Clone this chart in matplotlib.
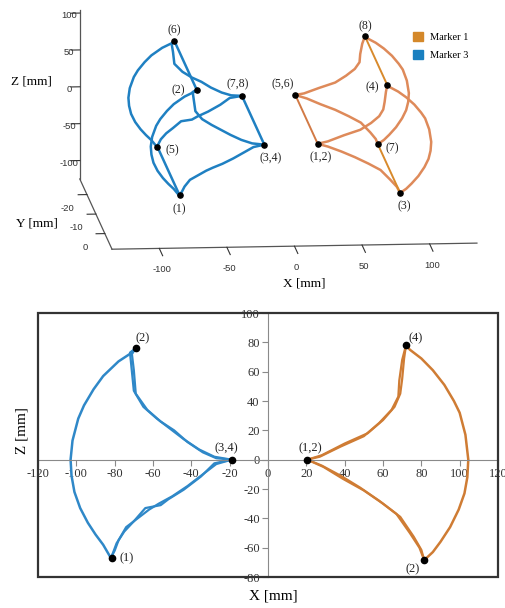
import matplotlib
matplotlib.use("Agg")
import matplotlib.pyplot as plt
from matplotlib.patches import Rectangle, Patch
import numpy as np

plt.rcParams['font.family'] = ['Liberation Serif', 'DejaVu Serif']
plt.rcParams['axes.unicode_minus'] = False

# ---- traced X-Z paths [mm] ----
blue_arc_x = [-69, -71, -78, -86, -91, -96, -99, -102, -103, -102.5, -101, -98, -94, -90, -86, -82]
blue_arc_z = [76, 73, 67, 57, 48, 37, 28, 13, 0, -11, -22, -33, -43, -51, -58, -67]
blue_up_x = [[-69, -71, -70, -69, -63, -56, -49, -42, -34, -27, -19],
             [-69, -72, -71, -70, -65, -58, -51, -44, -36, -28, -19]]
blue_up_z = [[76, 72, 61, 45, 34, 26, 20, 12, 5, 1, 0],
             [76, 73, 60, 47, 36, 28, 21, 14, 7, 2, 0]]
blue_lo_x = [[-19, -28, -35, -44, -52, -56, -64, -70, -75, -79, -81, -82],
             [-19, -27, -34, -42, -50, -57, -62, -68, -74, -78, -80, -82]]
blue_lo_z = [[0, -2.5, -11.5, -20.5, -27, -31, -33, -42, -49, -57, -64, -67],
             [0, -3, -10, -18, -25, -30, -34, -40, -46, -55, -62, -67]]

orange_arc_x = [72, 74, 80, 86, 92, 97, 100, 103, 104.5, 104, 102.5, 99.5, 95, 90, 86, 81.5]
orange_arc_z = [78, 75, 69, 61, 51, 40, 32, 17, 0, -12, -23, -34, -46, -56, -63, -68.5]
orange_up_x = [[20.5, 27, 38, 50, 58, 64.5, 68, 68.5, 70, 72],
               [20.5, 28, 40, 52, 60, 66, 69, 70, 71, 72]]
orange_up_z = [[0, 2, 9, 16, 25, 34, 43, 54, 68, 78],
               [0, 3, 11, 18, 27, 36, 45, 55, 69, 78]]
orange_lo_x = [[20.5, 29, 39, 50, 60, 69, 76, 80, 81.5],
               [20.5, 28, 38, 48, 58, 67, 74, 79, 81.5]]
orange_lo_z = [[0, -5, -13, -21, -30, -39, -52.5, -61.5, -68.5],
               [0, -4, -11, -19, -28, -37, -50, -60, -68.5]]

# key points in the X-Z view: top, bottom, tip
blue_pts_x = [-69, -81.6, -19]
blue_pts_z = [76, -67, 0]
orange_pts_x = [72, 81.5, 20.5]
orange_pts_z = [78, -68.5, 0]

# depth (Y) of the two planes seen in the 3D view: back, front
plane_y = [-22, 3]

# labels in the 3D view (back plane, front plane) for top, bottom, tip
blue_labels_3d = [["(6)", "(5)", "(7,8)"], ["(2)", "(1)", "(3,4)"]]
orange_labels_3d = [["(8)", "(7)", "(5,6)"], ["(4)", "(3)", "(1,2)"]]
blue_labels_2d = ["(2)", "(1)", "(3,4)"]
orange_labels_2d = ["(4)", "(2)", "(1,2)"]

x_ticks_3d = [-100, -50, 0, 50, 100]
y_ticks_3d = [-20, -10, 0]
z_ticks_3d = [-100, -50, 0, 50, 100]

BLUE = "#1f80c2"
ORANGE = "#de8a5a"
ORANGE_LINK = "#d88a2c"
BLUE2 = "#2f88c8"
ORANGE2 = "#cf7c34"

fig = plt.figure(figsize=(5.06, 6.08), dpi=100)

# ================= top: 3D view =================
ax3 = fig.add_axes([0.042, 0.535, 1.0, 0.5], projection='3d')
ax3.set_proj_type('ortho')
ax3.set_box_aspect((1.15, 1.16, 0.54), zoom=1.75)
ax3.view_init(elev=11, azim=-95)

lw3 = dict(lw=1.8, clip_on=False)
for k, yv in enumerate(plane_y):
    ax3.plot(blue_arc_x, [yv] * len(blue_arc_x), blue_arc_z, color=BLUE, **lw3)
    ax3.plot(blue_up_x[k], [yv] * len(blue_up_x[k]), blue_up_z[k], color=BLUE, **lw3)
    ax3.plot(blue_lo_x[k], [yv] * len(blue_lo_x[k]), blue_lo_z[k], color=BLUE, **lw3)
    ax3.plot(orange_arc_x, [yv] * len(orange_arc_x), orange_arc_z, color=ORANGE, **lw3)
    ax3.plot(orange_up_x[k], [yv] * len(orange_up_x[k]), orange_up_z[k], color=ORANGE, **lw3)
    ax3.plot(orange_lo_x[k], [yv] * len(orange_lo_x[k]), orange_lo_z[k], color=ORANGE, **lw3)

# links between the two planes
for i in range(3):
    ax3.plot([blue_pts_x[i]] * 2, plane_y, [blue_pts_z[i]] * 2, color=BLUE, **lw3)
    link_col = "#d27a45" if i == 2 else ORANGE_LINK
    ax3.plot([orange_pts_x[i]] * 2, plane_y, [orange_pts_z[i]] * 2, color=link_col,
             lw=1.4, clip_on=False)

for k, yv in enumerate(plane_y):
    ax3.scatter(blue_pts_x, [yv] * 3, blue_pts_z, color='black', s=14,
                depthshade=False, zorder=10, clip_on=False)
    ax3.scatter(orange_pts_x, [yv] * 3, orange_pts_z, color='black', s=14,
                depthshade=False, zorder=10, clip_on=False)

lab_kw = dict(fontsize=8.5, color='#222', clip_on=False)
for k, yv in enumerate(plane_y):
    bl = blue_labels_3d[k]
    ol = orange_labels_3d[k]
    if k == 0:
        ax3.text(blue_pts_x[0], yv, blue_pts_z[0] + 6, bl[0], ha='center', va='bottom', **lab_kw)
        ax3.text(blue_pts_x[1] + 6, yv, blue_pts_z[1] - 5, bl[1], ha='left', va='center', **lab_kw)
        ax3.text(blue_pts_x[2] - 3, yv, blue_pts_z[2] + 7, bl[2], ha='center', va='bottom', **lab_kw)
        ax3.text(orange_pts_x[0], yv, orange_pts_z[0] + 6, ol[0], ha='center', va='bottom', **lab_kw)
        ax3.text(orange_pts_x[1] + 6, yv, orange_pts_z[1] - 6, ol[1], ha='left', va='center', **lab_kw)
        ax3.text(orange_pts_x[2] - 9, yv, orange_pts_z[2] + 6, ol[2], ha='center', va='bottom', **lab_kw)
    else:
        ax3.text(blue_pts_x[0] - 9, yv, blue_pts_z[0], bl[0], ha='right', va='center', **lab_kw)
        ax3.text(blue_pts_x[1], yv, blue_pts_z[1] - 10, bl[1], ha='center', va='top', **lab_kw)
        ax3.text(blue_pts_x[2] + 5, yv, blue_pts_z[2] - 10, bl[2], ha='center', va='top', **lab_kw)
        ax3.text(orange_pts_x[0] - 6, yv, orange_pts_z[0] - 3, ol[0], ha='right', va='center', **lab_kw)
        ax3.text(orange_pts_x[1] + 3, yv, orange_pts_z[1] - 10, ol[1], ha='center', va='top', **lab_kw)
        ax3.text(orange_pts_x[2] + 2, yv, orange_pts_z[2] - 10, ol[2], ha='center', va='top', **lab_kw)

ax3.set_xlim(-135, 135)
ax3.set_ylim(8, -28)
ax3.set_zlim(-125, 104)
ax3.set_xticks(x_ticks_3d)
ax3.set_yticks(y_ticks_3d)
ax3.set_zticks(z_ticks_3d)
ax3.grid(False)
for axis in (ax3.xaxis, ax3.yaxis, ax3.zaxis):
    axis.set_pane_color((1, 1, 1, 0))
    axis.pane.set_edgecolor((1, 1, 1, 0))
    axis.line.set_color('#555555')
    axis.line.set_linewidth(0.9)
    axis._axinfo['tick']['inward_factor'] = 0.3
    axis._axinfo['tick']['outward_factor'] = 0.0
    for t in axis.get_ticklabels():
        t.set_fontfamily('Liberation Sans')
# x ticks run along the short Y depth, so they need a larger factor
ax3.xaxis._axinfo['tick']['inward_factor'] = 1.3
ax3.xaxis._axinfo['tick']['outward_factor'] = 0.0
ax3.tick_params(labelsize=6.8, colors='#333333', width=0.9)
ax3.xaxis.set_tick_params(pad=0)
ax3.yaxis.set_tick_params(pad=-2)
ax3.zaxis.set_tick_params(pad=-5)

fig.text(31 / 506, 1 - 82 / 608, "Z [mm]", ha='center', va='center', fontsize=9.5)
fig.text(37 / 506, 1 - 224 / 608, "Y [mm]", ha='center', va='center', fontsize=9.5)
fig.text(304 / 506, 1 - 283 / 608, "X [mm]", ha='center', va='center', fontsize=9.5)

handles = [Patch(color="#d4882a", label="Marker 1"), Patch(color="#1a80c0", label="Marker 3")]
fig.legend(handles=handles, loc='upper left', bbox_to_anchor=(409 / 506, 1 - 28 / 608),
           frameon=False, fontsize=7.5, handlelength=0.9, handleheight=0.9,
           handletextpad=0.7, labelspacing=0.75, borderaxespad=0)

# ================= bottom: X-Z view =================
ax2 = fig.add_axes([38 / 506, 31 / 608, 460 / 506, 264 / 608])
for k in range(2):
    ax2.plot(blue_up_x[k], blue_up_z[k], color=BLUE2, lw=1.6)
    ax2.plot(blue_lo_x[k], blue_lo_z[k], color=BLUE2, lw=1.6)
    ax2.plot(orange_up_x[k], orange_up_z[k], color=ORANGE2, lw=1.6)
    ax2.plot(orange_lo_x[k], orange_lo_z[k], color=ORANGE2, lw=1.6)
ax2.plot(blue_arc_x, blue_arc_z, color=BLUE2, lw=1.8)
ax2.plot(orange_arc_x, orange_arc_z, color=ORANGE2, lw=1.8)
ax2.plot(blue_pts_x, blue_pts_z, 'o', color='black', ms=4.5, zorder=6)
ax2.plot(orange_pts_x, orange_pts_z, 'o', color='black', ms=4.5, zorder=6)

lk = dict(fontsize=9, color='#222')
ax2.annotate(blue_labels_2d[0], (blue_pts_x[0], blue_pts_z[0]), xytext=(0, 3),
             textcoords='offset points', ha='left', va='bottom', **lk)
ax2.annotate(blue_labels_2d[1], (blue_pts_x[1], blue_pts_z[1]), xytext=(6, 0),
             textcoords='offset points', ha='left', va='center', **lk)
ax2.annotate(blue_labels_2d[2], (blue_pts_x[2], blue_pts_z[2]), xytext=(-4, 4),
             textcoords='offset points', ha='center', va='bottom', **lk)
ax2.annotate(orange_labels_2d[0], (orange_pts_x[0], orange_pts_z[0]), xytext=(2, 1),
             textcoords='offset points', ha='left', va='bottom', **lk)
ax2.annotate(orange_labels_2d[1], (orange_pts_x[1], orange_pts_z[1]), xytext=(-3, -2),
             textcoords='offset points', ha='right', va='top', **lk)
ax2.annotate(orange_labels_2d[2], (orange_pts_x[2], orange_pts_z[2]), xytext=(2, 4),
             textcoords='offset points', ha='center', va='bottom', **lk)

ax2.set_xlim(-120, 120)
ax2.set_ylim(-80, 100)
ax2.set_xticks(np.arange(-120, 121, 20))
ax2.set_yticks(np.arange(-80, 101, 20))
ax2.spines['left'].set_position(('data', 0))
ax2.spines['bottom'].set_position(('data', 0))
ax2.spines['top'].set_visible(False)
ax2.spines['right'].set_visible(False)
for s in ('left', 'bottom'):
    ax2.spines[s].set_color('#8a8a8a')
    ax2.spines[s].set_linewidth(0.8)
ax2.tick_params(direction='out', length=4, width=0.8, color='#8a8a8a',
                labelsize=9, labelcolor='#333333', pad=2)
ax2.add_patch(Rectangle((0, 0), 1, 1, transform=ax2.transAxes, fill=False,
                        lw=1.6, ec='#333333', clip_on=False, zorder=5))

fig.text(273 / 506, 1 - 596 / 608, "X [mm]", ha='center', va='center', fontsize=11)
fig.text(22 / 506, 1 - 431 / 608, "Z [mm]", ha='center', va='center', fontsize=11, rotation=90)

fig.savefig("out.png", dpi=100)
